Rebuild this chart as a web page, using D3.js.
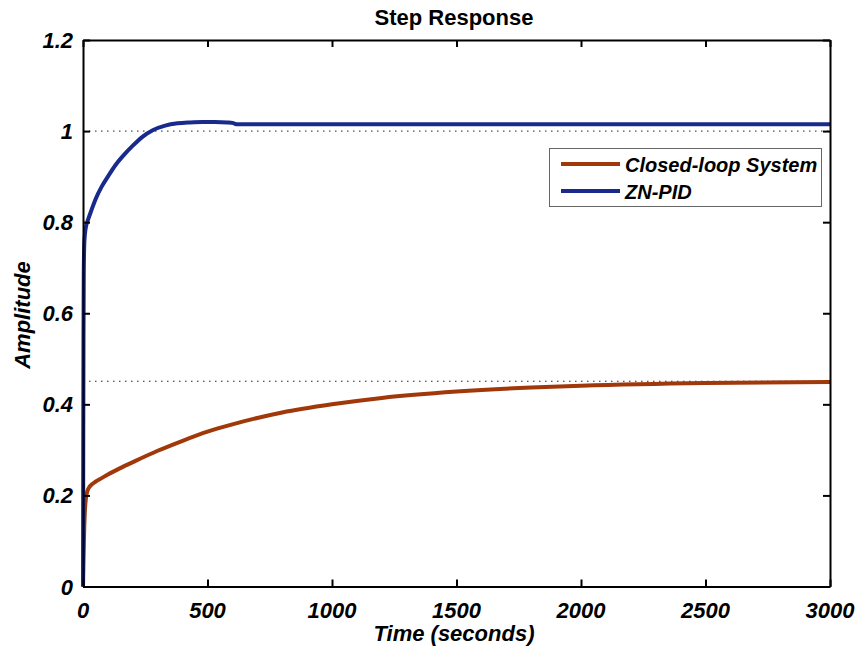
<!DOCTYPE html>
<html>
<head>
<meta charset="utf-8">
<script src="https://cdn.jsdelivr.net/npm/d3@7"></script>
<style>
  html, body { margin: 0; padding: 0; background: #fff; }
  svg { display: block; }
  text { font-family: "Liberation Sans", Arial, sans-serif; font-weight: bold; }
</style>
</head>
<body>
<svg id="chart" width="860" height="654"></svg>
<script>
// Step response samples (time in seconds, amplitude)
const closedLoopT = [0, 2, 5, 8, 12, 18, 25, 35, 50, 75, 100, 150, 200, 300, 400, 500, 600, 700, 800, 1000, 1200, 1500, 1800, 2000, 2500, 3000];
const closedLoopY = [0, 0.06, 0.13, 0.17, 0.195, 0.21, 0.218, 0.224, 0.23, 0.238, 0.246, 0.26, 0.273, 0.298, 0.32, 0.34, 0.356, 0.37, 0.382, 0.40, 0.414, 0.428, 0.437, 0.441, 0.447, 0.449];

const pidT = [0, 1, 2, 3, 5, 8, 12, 20, 35, 50, 75, 100, 130, 160, 200, 240, 280, 330, 380, 430, 480, 530, 580, 600, 620, 700, 1000, 1500, 2000, 2500, 3000];
const pidY = [0, 0.3, 0.55, 0.68, 0.75, 0.775, 0.79, 0.805, 0.828, 0.85, 0.878, 0.90, 0.925, 0.945, 0.968, 0.988, 1.002, 1.012, 1.017, 1.019, 1.02, 1.02, 1.019, 1.018, 1.015, 1.015, 1.015, 1.015, 1.015, 1.015, 1.015];

// Final values shown as dotted reference lines
const steadyStates = [1.0, 0.4507];

const xTicks = [0, 500, 1000, 1500, 2000, 2500, 3000];
const yTicks = [0, 0.2, 0.4, 0.6, 0.8, 1, 1.2];
const seriesNames = ["Closed-loop System", "ZN-PID"];
const seriesColors = ["#a0380a", "#182a8c"];

const svg = d3.select("#chart");
const plotL = 83, plotR = 830, plotT = 40, plotB = 586.5;

const x = d3.scaleLinear().domain([0, 3000]).range([plotL, plotR]);
const y = d3.scaleLinear().domain([0, 1.2]).range([plotB, plotT]);

// steady-state dotted lines
svg.selectAll("line.ss").data(steadyStates).enter().append("line")
  .attr("x1", plotL).attr("x2", plotR)
  .attr("y1", d => y(d)).attr("y2", d => y(d))
  .attr("stroke", "#222").attr("stroke-width", 1)
  .attr("stroke-dasharray", "1.5 4.5");

const line = d3.line()
  .x(d => x(d[0])).y(d => y(d[1]))
  .curve(d3.curveMonotoneX);

const series = [
  d3.zip(closedLoopT, closedLoopY),
  d3.zip(pidT, pidY)
];

svg.selectAll("path.series").data(series).enter().append("path")
  .attr("d", line)
  .attr("fill", "none")
  .attr("stroke", (d, i) => seriesColors[i])
  .attr("stroke-width", 4)
  .attr("stroke-linejoin", "round");

// axes box with inward ticks on all sides
const tickLen = 7;
const axB = svg.append("g").attr("transform", `translate(0,${plotB})`)
  .call(d3.axisBottom(x).tickValues(xTicks).tickSizeInner(-tickLen).tickSizeOuter(0).tickFormat(""));
const axT = svg.append("g").attr("transform", `translate(0,${plotT})`)
  .call(d3.axisTop(x).tickValues(xTicks).tickSizeInner(-tickLen).tickSizeOuter(0).tickFormat(""));
const axL = svg.append("g").attr("transform", `translate(${plotL},0)`)
  .call(d3.axisLeft(y).tickValues(yTicks).tickSizeInner(-tickLen).tickSizeOuter(0).tickFormat(""));
const axR = svg.append("g").attr("transform", `translate(${plotR},0)`)
  .call(d3.axisRight(y).tickValues(yTicks).tickSizeInner(-tickLen).tickSizeOuter(0).tickFormat(""));
[axB, axT, axL, axR].forEach(g => {
  g.select(".domain").attr("stroke", "#000").attr("stroke-width", 2);
  g.selectAll(".tick line").attr("stroke", "#000").attr("stroke-width", 2);
});

// tick labels
const fmtY = d => d3.format("~g")(d);
svg.selectAll("text.xt").data(xTicks).enter().append("text")
  .attr("x", d => x(d)).attr("y", 618)
  .attr("text-anchor", "middle")
  .attr("font-size", 22).attr("font-style", "italic")
  .text(d => d);
svg.selectAll("text.yt").data(yTicks).enter().append("text")
  .attr("x", 73).attr("y", d => y(d) + 8)
  .attr("text-anchor", "end")
  .attr("font-size", 22).attr("font-style", "italic")
  .text(fmtY);

// titles
svg.append("text").attr("x", 454).attr("y", 25)
  .attr("text-anchor", "middle").attr("font-size", 22)
  .text("Step Response");
svg.append("text").attr("x", 454).attr("y", 641)
  .attr("text-anchor", "middle").attr("font-size", 22).attr("font-style", "italic")
  .text("Time (seconds)");
svg.append("text").attr("transform", "translate(30,315) rotate(-90)")
  .attr("text-anchor", "middle").attr("font-size", 22).attr("font-style", "italic")
  .text("Amplitude");

// legend
const lg = svg.append("g");
lg.append("rect").attr("x", 549.5).attr("y", 148.5).attr("width", 272).attr("height", 58)
  .attr("fill", "#fff").attr("stroke", "#666").attr("stroke-width", 1);
seriesNames.forEach((name, i) => {
  const yy = 164 + i * 27;
  lg.append("line").attr("x1", 561).attr("x2", 620).attr("y1", yy).attr("y2", yy)
    .attr("stroke", seriesColors[i]).attr("stroke-width", 4);
  lg.append("text").attr("x", 625).attr("y", yy + 8)
    .attr("font-size", 20).attr("font-style", "italic")
    .text(name);
});
</script>
</body>
</html>
